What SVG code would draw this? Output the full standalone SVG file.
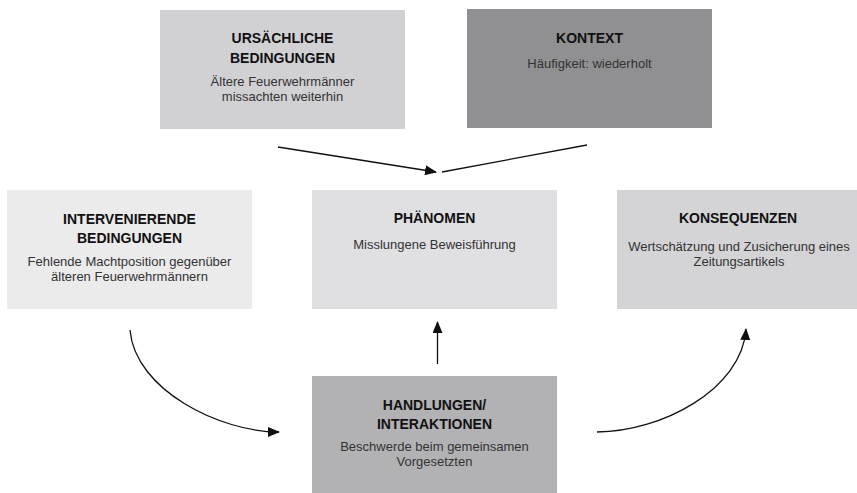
<svg xmlns="http://www.w3.org/2000/svg" width="857" height="493" viewBox="0 0 857 493">
<style>
.t{font-family:"Liberation Sans",Arial,sans-serif;font-size:14px;font-weight:bold;fill:#111;text-anchor:middle}
.b{font-family:"Liberation Sans",Arial,sans-serif;font-size:13px;fill:#333;text-anchor:middle}
.c{fill:none;stroke:#111;stroke-width:1.3}
</style>
<defs>
<marker id="ah" markerUnits="userSpaceOnUse" markerWidth="12" markerHeight="10" refX="11" refY="5" orient="auto">
<path d="M0,0 L12,5 L0,10 z" fill="#111"/>
</marker>
</defs>
<rect width="857" height="493" fill="#fff"/>
<g id="ursaechliche">
<rect x="160" y="10" width="245" height="119" fill="#d1d1d3"/>
<text class="t" x="282.5" y="43">URSÄCHLICHE</text>
<text class="t" x="282.5" y="63">BEDINGUNGEN</text>
<text class="b" x="282.5" y="86">Ältere Feuerwehrmänner</text>
<text class="b" x="282.5" y="101">missachten weiterhin</text>
</g>
<g id="kontext">
<rect x="467" y="9" width="245" height="119" fill="#909092"/>
<text class="t" x="589.5" y="43">KONTEXT</text>
<text class="b" x="589.5" y="68">Häufigkeit: wiederholt</text>
</g>
<g id="intervenierende">
<rect x="7" y="190" width="245" height="119" fill="#ebebeb"/>
<text class="t" x="129.5" y="224">INTERVENIERENDE</text>
<text class="t" x="129.5" y="243">BEDINGUNGEN</text>
<text class="b" x="129.5" y="266">Fehlende Machtposition gegenüber</text>
<text class="b" x="129.5" y="281">älteren Feuerwehrmännern</text>
</g>
<g id="phaenomen">
<rect x="312" y="190" width="245" height="119" fill="#e0e0e2"/>
<text class="t" x="434.5" y="223">PHÄNOMEN</text>
<text class="b" x="434.5" y="249">Misslungene Beweisführung</text>
</g>
<g id="konsequenzen">
<rect x="617" y="190" width="245" height="119" fill="#d4d4d6"/>
<text class="t" x="738" y="223">KONSEQUENZEN</text>
<text class="b" x="739" y="251">Wertschätzung und Zusicherung eines</text>
<text class="b" x="739" y="266">Zeitungsartikels</text>
</g>
<g id="handlungen">
<rect x="312" y="376" width="245" height="119" fill="#b2b2b4"/>
<text class="t" x="434.5" y="410">HANDLUNGEN/</text>
<text class="t" x="434.5" y="429">INTERAKTIONEN</text>
<text class="b" x="434.5" y="451">Beschwerde beim gemeinsamen</text>
<text class="b" x="434.5" y="466">Vorgesetzten</text>
</g>
<g id="connectors">
<line class="c" x1="278" y1="147" x2="436" y2="172" marker-end="url(#ah)"/>
<line class="c" x1="442" y1="172" x2="587" y2="145"/>
<line class="c" x1="437.5" y1="364" x2="437.5" y2="322" marker-end="url(#ah)"/>
<path class="c" d="M130,330 C135,390 220,432 279,432" marker-end="url(#ah)"/>
<path class="c" d="M597,432 C660,432 742,390 746,329" marker-end="url(#ah)"/>
</g>
</svg>
